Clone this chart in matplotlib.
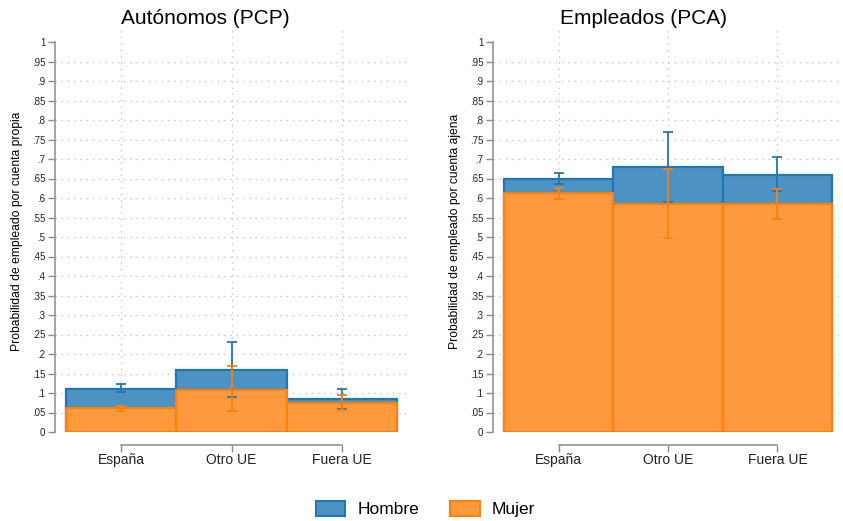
import matplotlib.pyplot as plt
import numpy as np
from matplotlib.patches import Patch

plt.rcParams["font.family"] = ["Liberation Sans", "DejaVu Sans"]

origins = ["España", "Otro UE", "Fuera UE"]

# Autónomos (PCP)
pcp_hombre = [0.110, 0.159, 0.085]
pcp_hombre_lo = [0.103, 0.091, 0.060]
pcp_hombre_hi = [0.122, 0.231, 0.111]
pcp_mujer = [0.061, 0.108, 0.074]
pcp_mujer_lo = [0.054, 0.055, 0.056]
pcp_mujer_hi = [0.067, 0.168, 0.095]

# Empleados (PCA)
pca_hombre = [0.650, 0.680, 0.660]
pca_hombre_lo = [0.635, 0.591, 0.618]
pca_hombre_hi = [0.665, 0.769, 0.704]
pca_mujer = [0.612, 0.585, 0.585]
pca_mujer_lo = [0.597, 0.497, 0.547]
pca_mujer_hi = [0.626, 0.675, 0.624]

BLUE = "#1f77b4"
BLUE_FILL = "#4c92c3"
ORANGE = "#ff7f0e"
ORANGE_FILL = "#ff993e"
GRID = "#bdbdbd"
AXIS = "#8c8c8c"

W, H = 843, 521
fig = plt.figure(figsize=(W / 100, H / 100), dpi=100)


def panel(rect, hombre, h_lo, h_hi, mujer, m_lo, m_hi, ylabel, title, title_x):
    ax = fig.add_axes(rect)
    x = np.arange(1, len(origins) + 1)
    ax.bar(x, hombre, width=1.0, color=BLUE_FILL, edgecolor=BLUE, lw=1.6, zorder=2)
    ax.bar(x, mujer, width=1.0, color=ORANGE_FILL, edgecolor=ORANGE, lw=1.6, zorder=3)

    h = np.array(hombre)
    m = np.array(mujer)
    ax.errorbar(x, h, yerr=[h - np.array(h_lo), np.array(h_hi) - h], fmt="none",
                ecolor=BLUE, elinewidth=1.3, capsize=3.5, capthick=1.3, zorder=4)
    ax.errorbar(x, m, yerr=[m - np.array(m_lo), np.array(m_hi) - m], fmt="none",
                ecolor=ORANGE, elinewidth=1.3, capsize=3.5, capthick=1.3, zorder=5)

    ax.set_xlim(0.4, 3.6)
    ax.set_ylim(0, 1.03)
    yt = np.round(np.arange(0, 1.0001, 0.05), 2)
    ax.set_yticks(yt)
    ax.set_yticklabels(["0" if v == 0 else f"{v:g}".lstrip("0") for v in yt],
                       fontsize=7)
    ax.set_xticks(x)
    ax.set_xticklabels(origins, fontsize=9)

    ax.grid(True, color=GRID, linestyle=(0, (1, 4)), lw=0.9, zorder=0)
    ax.yaxis.get_gridlines()[-1].set_visible(False)
    ax.yaxis.get_gridlines()[0].set_visible(False)

    for s in ["top", "right"]:
        ax.spines[s].set_visible(False)
    ax.spines["left"].set_bounds(0, 1)
    ax.spines["bottom"].set_bounds(1, 3)
    ax.spines["bottom"].set_position(("outward", 9))
    for s in ["left", "bottom"]:
        ax.spines[s].set_color(AXIS)
        ax.spines[s].set_linewidth(1.1)
    ax.tick_params(axis="both", colors=AXIS, length=5, width=1.0, labelcolor="#222222")
    ax.tick_params(axis="y", pad=2)
    ax.tick_params(axis="x", pad=1)
    ax.set_ylabel(ylabel, fontsize=8.7, labelpad=6)
    fig.text(title_x / W, 1 - 19 / H, title, ha="center", va="center", fontsize=15)
    return ax


bottom = (H - 432) / H
height = 390 * 1.03 / H
panel([55 / W, bottom, 353 / W, height], pcp_hombre, pcp_hombre_lo, pcp_hombre_hi,
      pcp_mujer, pcp_mujer_lo, pcp_mujer_hi,
      "Probabilidad de empleado por cuenta propia", "Autónomos (PCP)", 205)
panel([493 / W, bottom, 350 / W, height], pca_hombre, pca_hombre_lo, pca_hombre_hi,
      pca_mujer, pca_mujer_lo, pca_mujer_hi,
      "Probabilidad de empleado por cuenta ajena", "Empleados (PCA)", 643)

handles = [
    Patch(facecolor=BLUE_FILL, edgecolor=BLUE, lw=1.5, label="Hombre"),
    Patch(facecolor=ORANGE_FILL, edgecolor=ORANGE, lw=1.5, label="Mujer"),
]
fig.legend(handles=handles, loc="center", bbox_to_anchor=(0.5 + 4 / W, 1 - 509 / H),
           ncol=2, frameon=False, fontsize=12.5, handlelength=1.7, handleheight=1.0,
           columnspacing=1.8, handletextpad=0.7)

fig.savefig("out.png", dpi=100)
